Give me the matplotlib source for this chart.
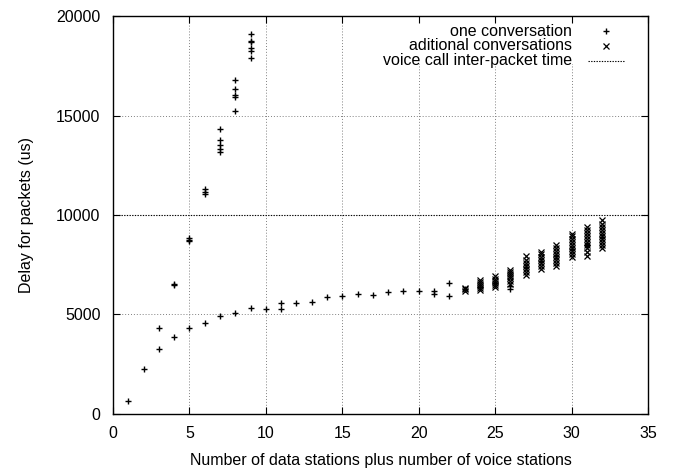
import matplotlib
matplotlib.use("Agg")
import matplotlib.pyplot as plt
from matplotlib.patches import Rectangle

plt.rcParams['font.family'] = ['Liberation Sans', 'DejaVu Sans']
plt.rcParams['font.size'] = 11.5

# Delay of the single conversation vs. number of stations
one_x = [1, 2, 3, 3, 4, 4, 4, 5, 5, 5, 5, 6, 6, 6, 6,
         7, 7, 7, 7, 7, 7, 8, 8, 8, 8, 8, 8,
         9, 9, 9, 9, 9, 9, 9,
         10, 11, 11, 12, 13, 14, 15, 16, 17, 18, 19, 20, 21, 21, 22, 22,
         23, 24, 25, 26, 26, 27, 28, 29, 30, 31, 32]
one_y = [650, 2270, 3280, 4340, 3850, 6550, 6500, 4320, 8830, 8750, 8700, 4570, 11300, 11170, 11050,
         4900, 14300, 13750, 13500, 13300, 13150, 5090, 16780, 16310, 16030, 15910, 15225,
         5330, 19095, 18740, 18680, 18375, 18255, 17870,
         5290, 5260, 5560, 5560, 5620, 5900, 5930, 6050, 5980, 6110, 6160, 6200, 6180, 6040, 6570, 5950,
         6260, 6400, 6600, 6300, 6450, 7400, 7700, 7950, 8300, 8500, 8900]

# Delay of the additional conversations
add_x = ([23] * 3 + [24] * 6 + [25] * 6 + [26] * 7 + [27] * 7 + [28] * 7
         + [29] * 8 + [30] * 9 + [31] * 10 + [32] * 10)
add_y = [6200, 6260, 6320,
         6250, 6350, 6450, 6550, 6650, 6720,
         6400, 6500, 6600, 6700, 6800, 6920,
         6550, 6700, 6850, 6950, 7050, 7150, 7230,
         7000, 7150, 7300, 7450, 7600, 7750, 7920,
         7300, 7450, 7600, 7750, 7900, 8050, 8150,
         7450, 7600, 7750, 7900, 8050, 8200, 8350, 8500,
         7900, 8050, 8200, 8350, 8500, 8650, 8800, 8950, 9060,
         7950, 8150, 8350, 8500, 8650, 8800, 8950, 9100, 9250, 9420,
         8350, 8500, 8650, 8800, 8950, 9100, 9250, 9400, 9550, 9750]

voice_interval = 10000

x_ticks = [0, 5, 10, 15, 20, 25, 30, 35]
y_ticks = [0, 5000, 10000, 15000, 20000]

fig = plt.figure(figsize=(6.74, 4.74), dpi=100)
ax = fig.add_axes([0.1677, 0.1266, 0.7937, 0.8396])

ax.set_xlim(0, 35)
ax.set_ylim(0, 20000)
ax.set_xticks(x_ticks)
ax.set_yticks(y_ticks)
ax.tick_params(direction='in', top=True, right=True, length=5, width=0.8)
ax.tick_params(axis='x', pad=9)
ax.tick_params(axis='y', pad=9)

# dotted grid (skip the frame edges)
for xv in x_ticks[1:-1]:
    ax.axvline(xv, color='#808080', lw=0.7, ls=(0, (1, 2)), zorder=0)
for yv in y_ticks[1:-1]:
    if yv != voice_interval:
        ax.axhline(yv, color='#808080', lw=0.7, ls=(0, (1, 2)), zorder=0)

PLUS = dict(marker='+', ms=5, mew=1.0, color='black', ls='none')
CROSS = dict(marker='x', ms=3.8, mew=0.9, color='black', ls='none')

ax.plot(one_x, one_y, zorder=3, **PLUS)
ax.plot(add_x, add_y, zorder=3, **CROSS)
ax.axhline(voice_interval, color='black', lw=0.8, ls=(0, (1.2, 1.2)), zorder=2)

for s in ax.spines.values():
    s.set_linewidth(1.0)

ax.set_xlabel('Number of data stations plus number of voice stations', labelpad=8)
ax.set_ylabel('Delay for packets (us)', labelpad=16)

# key area: blank out the grid behind it
tr = ax.transAxes
ax.add_patch(Rectangle((0.48, 0.879), 0.50, 0.118, transform=tr,
                       facecolor='white', edgecolor='none', zorder=1))

# key, right-justified text with the sample on its right
labels = ['one conversation', 'aditional conversations', 'voice call inter-packet time']
rows = [0.962, 0.925, 0.888]
for lab, yy in zip(labels, rows):
    ax.text(0.858, yy, lab, transform=tr, ha='right', va='center', zorder=4)
ax.plot([0.922], [rows[0]], transform=tr, zorder=4, **PLUS)
ax.plot([0.922], [rows[1]], transform=tr, zorder=4, **CROSS)
ax.plot([0.888, 0.957], [rows[2], rows[2]], transform=tr, color='black', lw=0.8,
        ls=(0, (1.2, 1.2)), zorder=4)

fig.savefig('out.png', dpi=100)
